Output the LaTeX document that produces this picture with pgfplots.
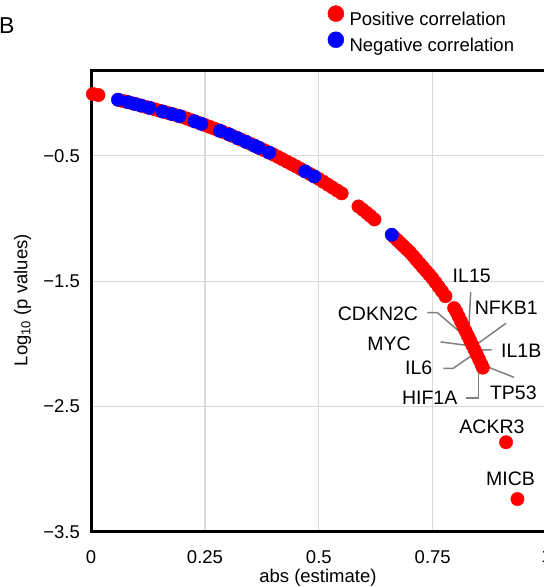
\documentclass[border=0pt]{standalone}
\usepackage{fontspec}
\setmainfont{Liberation Sans}
\usepackage{pgfplots}
\pgfplotsset{compat=1.18}
\definecolor{pos}{RGB}{255,0,0}
\definecolor{neg}{RGB}{0,0,255}
\definecolor{lead}{RGB}{128,128,128}
\definecolor{gridc}{RGB}{217,217,217}
\newcommand\fs{\fontsize{18.5bp}{22bp}\selectfont}
\newcommand\gs{\fontsize{19.5bp}{23bp}\selectfont}
\begin{document}
\begin{tikzpicture}
\begin{axis}[
  at={(91.1bp,55.1bp)}, anchor=south west,
  scale only axis, width=455.5bp, height=461.4bp,
  xmin=0, xmax=1, ymin=-3.5, ymax=0.18,
  clip=false,
  xtick={0,0.25,0.5,0.75,1}, xticklabels={0,0.25,0.5,0.75,1},
  ytick={-3.5,-2.5,-1.5,-0.5}, yticklabels={−3.5,−2.5,−1.5,−0.5},
  grid=major, grid style={line width=1.2bp, gridc},
  major tick length=0pt,
  axis line style={line width=3bp, black, line join=miter},
  tick label style={font=\fs, inner sep=0pt},
  xticklabel style={anchor=north, yshift=-18.1bp},
  yticklabel style={anchor=east, xshift=-11.1bp},
  xlabel={abs (estimate)}, ylabel={Log\textsubscript{10} (p values)},
  label style={font=\fs, inner sep=0pt},
  xlabel style={at={(axis description cs:0.498,-0.1106)}, anchor=base},
  ylabel style={at={(axis description cs:-0.1506,0.5024)}, anchor=center},
  legend style={draw=none, fill=none, inner sep=0pt, outer sep=0pt,
    at={(axis description cs:0.5194,1.1411)}, anchor=north west,
    row sep=4.5bp, column sep=5.5bp, font=\fs, nodes={inner sep=0pt}},
  legend cell align=left,
  legend image code/.code={\fill[#1] (0bp,6bp) circle (8bp);},
]
\addplot[only marks, mark=*, color=pos, mark size=6.7bp, mark options={draw=none, fill=pos}] coordinates {
(0.004,-0.008) (0.016,-0.016)
(0.06,-0.054) (0.07,-0.063) (0.08,-0.072) (0.09,-0.081) (0.10,-0.090) (0.11,-0.100) (0.12,-0.110) (0.13,-0.120) (0.14,-0.130) (0.15,-0.140) (0.16,-0.150) (0.17,-0.160) (0.18,-0.170) (0.19,-0.180) (0.20,-0.190) (0.21,-0.203) (0.22,-0.216) (0.23,-0.229) (0.24,-0.242) (0.25,-0.255) (0.26,-0.269) (0.27,-0.283) (0.28,-0.297) (0.29,-0.311) (0.30,-0.325) (0.31,-0.341) (0.32,-0.357) (0.33,-0.373) (0.34,-0.389) (0.35,-0.405) (0.36,-0.422) (0.37,-0.439) (0.38,-0.456) (0.39,-0.473) (0.40,-0.490) (0.41,-0.509) (0.42,-0.528) (0.43,-0.547) (0.44,-0.566) (0.45,-0.585) (0.46,-0.605) (0.47,-0.625) (0.48,-0.645) (0.49,-0.665) (0.50,-0.685) (0.51,-0.708) (0.52,-0.731) (0.53,-0.754) (0.54,-0.777) (0.55,-0.800)
(0.587,-0.904) (0.596,-0.929) (0.605,-0.956) (0.613,-0.980) (0.622,-1.008)
(0.665,-1.148) (0.672,-1.172) (0.679,-1.197) (0.686,-1.221) (0.693,-1.246) (0.700,-1.270) (0.707,-1.299) (0.714,-1.329) (0.721,-1.358) (0.728,-1.388) (0.735,-1.417) (0.742,-1.446) (0.749,-1.476) (0.756,-1.510) (0.763,-1.545) (0.770,-1.580) (0.778,-1.620)
(0.797,-1.715) (0.802,-1.745) (0.807,-1.783) (0.812,-1.821) (0.817,-1.859) (0.822,-1.897) (0.827,-1.935) (0.832,-1.973) (0.837,-2.011) (0.842,-2.049) (0.847,-2.087) (0.852,-2.126) (0.857,-2.166) (0.860,-2.190)
(0.911,-2.785) (0.936,-3.238)
};
\addlegendentry{Positive correlation}
\addplot[only marks, mark=*, color=neg, mark size=6.7bp, mark options={draw=none, fill=neg}] coordinates {
(0.059,-0.053) (0.081,-0.073) (0.095,-0.086) (0.110,-0.100) (0.128,-0.118) (0.157,-0.147) (0.177,-0.167) (0.194,-0.184) (0.227,-0.225) (0.242,-0.245) (0.283,-0.301) (0.304,-0.331) (0.322,-0.360) (0.340,-0.389) (0.358,-0.419) (0.368,-0.436) (0.391,-0.475) (0.470,-0.625) (0.490,-0.665) (0.660,-1.130)
};
\addlegendentry{Negative correlation}
% leader lines
\draw[lead, line width=1.5bp] (0.8334,-1.588) -- (0.8281,-1.947);
\draw[lead, line width=1.5bp] (0.9109,-1.836) -- (0.8378,-2.027);
\draw[lead, line width=1.5bp] (0.7381,-1.751) -- (0.7601,-1.751) -- (0.8281,-1.963);
\draw[lead, line width=1.5bp] (0.7675,-1.985) -- (0.8356,-2.017);
\draw[lead, line width=1.5bp] (0.8795,-2.049) -- (0.8538,-2.049) -- (0.8479,-2.097);
\draw[lead, line width=1.5bp] (0.7732,-2.195) -- (0.7952,-2.195) -- (0.8406,-2.080);
\draw[lead, line width=1.5bp] (0.9284,-2.267) -- (0.8538,-2.160);
\draw[lead, line width=1.5bp] (0.8231,-2.434) -- (0.8501,-2.434) -- (0.8501,-2.142);
% gene labels
\node[font=\gs, inner sep=0pt, anchor=center] at (0.8356,-1.458) {IL15};
\node[font=\gs, inner sep=0pt, anchor=center] at (0.9115,-1.716) {NFKB1};
\node[font=\gs, inner sep=0pt, anchor=east] at (0.7183,-1.760) {CDKN2C};
\node[font=\gs, inner sep=0pt, anchor=east] at (0.7023,-2.001) {MYC};
\node[font=\gs, inner sep=0pt, anchor=west] at (0.8999,-2.054) {IL1B};
\node[font=\gs, inner sep=0pt, anchor=east] at (0.7495,-2.195) {IL6};
\node[font=\gs, inner sep=0pt, anchor=center] at (0.9269,-2.394) {TP53};
\node[font=\gs, inner sep=0pt, anchor=east] at (0.8044,-2.432) {HIF1A};
\node[font=\gs, inner sep=0pt, anchor=center] at (0.8801,-2.661) {ACKR3};
\node[font=\gs, inner sep=0pt, anchor=center] at (0.9207,-3.078) {MICB};
\end{axis}
\node[anchor=base west, inner sep=0pt, font=\fontsize{23bp}{26bp}\selectfont] at (-1bp,553.3bp) {B};
\pgfresetboundingbox
\useasboundingbox (0,0) rectangle (544bp,587bp);
\end{tikzpicture}
\end{document}
